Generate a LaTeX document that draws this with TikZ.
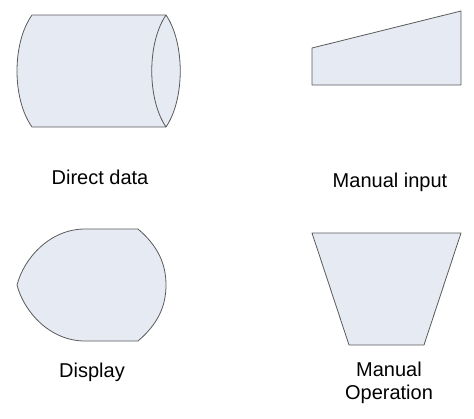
\documentclass[tikz,border=0pt]{standalone}
\usepackage{fontspec}
\setmainfont{Liberation Sans}
\usepackage{tikz}

\definecolor{shapefill}{RGB}{230,234,243}
\definecolor{shapeline}{RGB}{90,90,90}

\tikzset{
	flowshape/.style={fill=shapefill, draw=shapeline, line width=0.8pt, line join=round},
	flowlabel/.style={font=\fontsize{20}{23}\selectfont, align=center, inner sep=0pt}
}

\begin{document}
\begin{tikzpicture}[x=1pt,y=-1pt]
	\useasboundingbox (0,0) rectangle (474,418);

	% direct data
	\draw[flowshape] (32,15) -- (166,15)
		.. controls (185,43) and (185,99) .. (166,127)
		-- (32,127)
		.. controls (12,99) and (12,43) .. (32,15) -- cycle;
	\draw[draw=shapeline, line width=0.8pt] (166,15) .. controls (147,43) and (147,99) .. (166,127);
	\node[flowlabel] (directlabel) at (100,177) {Direct data};

	% manual input
	\draw[flowshape] (312,48) -- (461,11) -- (461,85) -- (312,85) -- cycle;
	\node[flowlabel] (inputlabel) at (390,182) {Manual input};

	% display
	\draw[flowshape] (85,229) -- (138,229)
		.. controls (158,246) and (166,264) .. (166,285)
		.. controls (166,306) and (158,324) .. (138,341)
		-- (85,341)
		.. controls (50,341) and (24,312) .. (17,285)
		.. controls (24,258) and (50,229) .. (85,229) -- cycle;
	\node[flowlabel] (displaylabel) at (92,372) {Display};

	% manual operation
	\draw[flowshape] (312,233) -- (461,233) -- (424,345) -- (349,345) -- cycle;
	\node[flowlabel] (operationlabel) at (389,383) {Manual\\Operation};
\end{tikzpicture}
\end{document}
